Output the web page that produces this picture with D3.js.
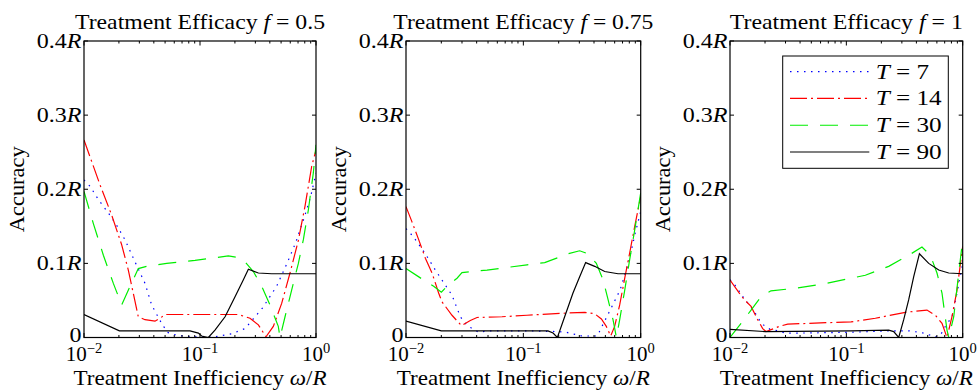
<!DOCTYPE html>
<html><head><meta charset="utf-8">
<script src="https://cdn.jsdelivr.net/npm/d3@7"></script>
<style>
body{margin:0;background:#fff}
svg{display:block}
</style>
</head><body><svg id="c" width="977" height="390"></svg>
<script>
// ---------- data ----------
const efficacies = ["0.5", "0.75", "1"];
const seriesT = ["7", "14", "30", "90"];
const yTicks = [0, 0.1, 0.2, 0.3, 0.4];
const yTickLabels = ["0", "0.1", "0.2", "0.3", "0.4"];
const xMajorTicks = [0.01, 0.1, 1];
const xTickExponents = ["−2", "−1", "0"];

// Panel f = 0.5  (log10 of omega/R, accuracy in units of R)
const f05_T7_logw  = [-2, -1.948, -1.876, -1.79, -1.713, -1.647, -1.56, -1.474, -1.417, -1.345, -1.282, -1.2, -1.086, -0.871, -0.727, -0.612, -0.46, -0.34, -0.25, -0.175, -0.095, -0.046, 0];
const f05_T7_acc   = [0.2125, 0.204, 0.186, 0.168, 0.150, 0.132, 0.102, 0.073, 0.044, 0.023, 0.007, 0.003, 0.001, 0.001, 0.005, 0.012, 0.04, 0.069, 0.1, 0.128, 0.165, 0.19, 0.222];
const f05_T14_logw = [-2, -1.862, -1.761, -1.675, -1.618, -1.532, -1.474, -1.388, -1.345, -1.30, -0.67, -0.569, -0.497, -0.431, -0.368, -0.296, -0.224, -0.152, -0.095, -0.037, 0];
const f05_T14_acc  = [0.2665, 0.206, 0.165, 0.125, 0.091, 0.028, 0.024, 0.022, 0.026, 0.031, 0.031, 0.026, 0.017, 0.001, 0.015, 0.046, 0.087, 0.131, 0.177, 0.231, 0.253];
const f05_T30_logw = [-2, -1.92, -1.833, -1.747, -1.675, -1.603, -1.532, -1.46, -1.287, -1.043, -0.899, -0.756, -0.67, -0.612, -0.54, -0.468, -0.397, -0.325, -0.31, -0.267, -0.21, -0.152, -0.109, -0.066, -0.023, 0];
const f05_T30_acc  = [0.197, 0.154, 0.111, 0.073, 0.044, 0.069, 0.093, 0.096, 0.100, 0.104, 0.107, 0.110, 0.108, 0.102, 0.089, 0.069, 0.044, 0.015, 0.0, 0.028, 0.064, 0.1, 0.132, 0.172, 0.222, 0.26];
const f05_T90_logw = [-2, -1.695, -1.086, -1.014, -0.986, -0.928, -0.871, -0.784, -0.698, -0.626, -0.583, -0.497, -0.382, 0];
const f05_T90_acc  = [0.031, 0.009, 0.009, 0.006, 0.002, 0, 0.010, 0.028, 0.055, 0.078, 0.092, 0.087, 0.086, 0.086];

// Panel f = 0.75
const f075_T7_logw  = [-2, -1.949, -1.906, -1.835, -1.75, -1.679, -1.608, -1.537, -1.494, -1.438, -1.381, -1.295, -0.969, -0.705, -0.634, -0.5, -0.37, -0.33, -0.26, -0.176, -0.105, -0.048, 0];
const f075_T7_acc   = [0.147, 0.138, 0.129, 0.113, 0.091, 0.074, 0.057, 0.028, 0.019, 0.012, 0.007, 0.009, 0.009, 0.008, 0.007, 0.002, 0.002, 0.015, 0.037, 0.064, 0.1, 0.14, 0.17];
const f075_T14_logw = [-2, -1.949, -1.892, -1.835, -1.778, -1.722, -1.693, -1.608, -1.528, -1.452, -1.395, -1.182, -0.969, -0.761, -0.477, -0.392, -0.335, -0.293, -0.256, -0.222, -0.179, -0.136, -0.094, -0.051, 0];
const f075_T14_acc  = [0.1766, 0.156, 0.132, 0.107, 0.087, 0.060, 0.048, 0.030, 0.016, 0.023, 0.027, 0.028, 0.030, 0.032, 0.034, 0.032, 0.025, 0.015, 0.002, 0.015, 0.044, 0.080, 0.114, 0.150, 0.19];
const f075_T30_logw = [-2, -1.864, -1.764, -1.699, -1.651, -1.565, -1.523, -1.31, -0.969, -0.818, -0.619, -0.52, -0.449, -0.378, -0.321, -0.278, -0.236, -0.207, -0.179, -0.136, -0.094, -0.051, 0];
const f075_T30_acc  = [0.093, 0.079, 0.069, 0.061, 0.069, 0.080, 0.0875, 0.091, 0.098, 0.101, 0.113, 0.117, 0.113, 0.100, 0.078, 0.051, 0.024, 0.0, 0.024, 0.064, 0.105, 0.145, 0.195];
const f075_T90_logw = [-2, -1.699, -0.79, -0.747, -0.71, -0.648, -0.577, -0.52, -0.469, -0.392, -0.307, -0.193, 0];
const f075_T90_acc  = [0.022, 0.009, 0.009, 0.006, 0, 0.028, 0.060, 0.082, 0.101, 0.096, 0.089, 0.086, 0.086];

// Panel f = 1
const f1_T7_logw  = [-2, -1.954, -1.914, -1.877, -1.834, -1.791, -1.754, -1.713, -1.656, -1.59, -1.524, -1.404, -0.96, -0.607, -0.464, -0.35, -0.235, -0.192, -0.149, -0.092, -0.049, 0];
const f1_T7_acc   = [0.078, 0.070, 0.061, 0.052, 0.044, 0.035, 0.025, 0.017, 0.011, 0.009, 0.006, 0.006, 0.007, 0.009, 0.009, 0.0065, 0.001, 0.003, 0.015, 0.028, 0.06, 0.1];
const f1_T14_logw = [-2, -1.92, -1.877, -1.819, -1.762, -1.719, -1.69, -1.576, -1.504, -1.175, -0.96, -0.751, -0.493, -0.307, -0.235, -0.178, -0.135, -0.092, -0.049, 0];
const f1_T14_acc  = [0.0776, 0.060, 0.051, 0.042, 0.024, 0.012, 0.008, 0.015, 0.018, 0.020, 0.021, 0.026, 0.034, 0.037, 0.030, 0.019, 0.0, 0.028, 0.064, 0.123];
const f1_T30_logw = [-2, -1.905, -1.819, -1.734, -1.648, -1.461, -1.203, -0.96, -0.837, -0.636, -0.464, -0.35, -0.278, -0.221, -0.178, -0.135, -0.12, -0.077, -0.034, 0];
const f1_T30_acc  = [0.0, 0.019, 0.037, 0.055, 0.063, 0.066, 0.072, 0.080, 0.084, 0.096, 0.111, 0.122, 0.111, 0.087, 0.06, 0.01, 0.0, 0.028, 0.087, 0.132];
const f1_T90_logw = [-2, -1.696, -0.96, -0.636, -0.593, -0.55, -0.507, -0.464, -0.421, -0.372, -0.292, -0.206, -0.12, 0];
const f1_T90_acc  = [0.011, 0.008, 0.009, 0.010, 0.008, 0.0, 0.024, 0.051, 0.082, 0.113, 0.100, 0.091, 0.087, 0.086];

const panelSeries = [
  [[f05_T7_logw, f05_T7_acc], [f05_T14_logw, f05_T14_acc], [f05_T30_logw, f05_T30_acc], [f05_T90_logw, f05_T90_acc]],
  [[f075_T7_logw, f075_T7_acc], [f075_T14_logw, f075_T14_acc], [f075_T30_logw, f075_T30_acc], [f075_T90_logw, f075_T90_acc]],
  [[f1_T7_logw, f1_T7_acc], [f1_T14_logw, f1_T14_acc], [f1_T30_logw, f1_T30_acc], [f1_T90_logw, f1_T90_acc]]
];

// ---------- layout / style ----------
const FONT = '"Liberation Serif"';
const panelLeft = [84, 406, 730];
const panelWidth = [232, 234.7, 232.7];
const titleWidth = [250, 260, 233];
const plotTop = 41, plotBottom = 337.5;
const styles = [
  {color: "#0000ff", dash: "1.5,5.5", width: 1.2},
  {color: "#ff0000", dash: "17,4,2,4", width: 1.2},
  {color: "#00ee00", dash: "18,12", width: 1.2},
  {color: "#000000", dash: null, width: 1.2}
];

const svg = d3.select("#c");

function txt(parent, size) {
  return parent.append("text").attr("font-family", FONT).attr("font-size", size).attr("fill", "#000");
}
// horizontally stretch a text (Computer-Modern-like wider glyphs)
function stretch(sel, k) {
  const w = sel.node().getComputedTextLength();
  if (w > 0) sel.attr("textLength", w * k).attr("lengthAdjust", "spacingAndGlyphs");
}
function widthOf(build) {
  const t = build(svg);
  const w = t.node().getComputedTextLength();
  t.remove();
  return w;
}
const tickK = 44.7 / widthOf(p => { const t = txt(p, 20); t.append("tspan").text("0.4"); t.append("tspan").attr("font-style", "italic").text("R"); return t; });
const legendK = 66 / widthOf(p => { const t = txt(p, 20); t.append("tspan").attr("font-style", "italic").text("T"); t.append("tspan").text(" = 14"); return t; });

panelSeries.forEach((series, pi) => {
  const L = panelLeft[pi], W = panelWidth[pi];
  const x = d3.scaleLog().domain([0.01, 1]).range([L, L + W]);
  const y = d3.scaleLinear().domain([0, 0.4]).range([plotBottom, plotTop]);
  const g = svg.append("g");

  const clipId = "clip" + pi;
  svg.append("clipPath").attr("id", clipId).append("rect")
    .attr("x", L).attr("y", plotTop).attr("width", W).attr("height", plotBottom - plotTop);

  // curves
  const line = d3.line().x(d => x(d[0])).y(d => y(d[1]));
  const cg = g.append("g").attr("clip-path", `url(#${clipId})`);
  series.forEach((s, si) => {
    const pts = s[0].map((lw, i) => [Math.pow(10, lw), s[1][i]]);
    const st = styles[si];
    cg.append("path").datum(pts).attr("d", line)
      .attr("fill", "none").attr("stroke", st.color)
      .attr("stroke-width", st.width)
      .attr("stroke-dasharray", st.dash);
  });

  // ticks (inward, both sides)
  const tg = g.append("g").attr("stroke", "#000").attr("stroke-width", 1);
  yTicks.forEach(v => {
    tg.append("line").attr("x1", L).attr("x2", L + 4).attr("y1", y(v)).attr("y2", y(v));
    tg.append("line").attr("x1", L + W - 4).attr("x2", L + W).attr("y1", y(v)).attr("y2", y(v));
  });
  const minor = [];
  [0.01, 0.1].forEach(d => { for (let m = 2; m <= 9; m++) minor.push(m * d); });
  minor.forEach(v => {
    tg.append("line").attr("x1", x(v)).attr("x2", x(v)).attr("y1", plotBottom).attr("y2", plotBottom - 2.5);
    tg.append("line").attr("x1", x(v)).attr("x2", x(v)).attr("y1", plotTop).attr("y2", plotTop + 2.5);
  });
  xMajorTicks.forEach(v => {
    tg.append("line").attr("x1", x(v)).attr("x2", x(v)).attr("y1", plotBottom).attr("y2", plotBottom - 4.5);
    tg.append("line").attr("x1", x(v)).attr("x2", x(v)).attr("y1", plotTop).attr("y2", plotTop + 4.5);
  });

  // box
  g.append("rect").attr("x", L).attr("y", plotTop).attr("width", W).attr("height", plotBottom - plotTop)
    .attr("fill", "none").attr("stroke", "#000").attr("stroke-width", 1.2);

  // y tick labels
  yTicks.forEach((v, i) => {
    const t = txt(g, 20).attr("x", L - 2.5).attr("y", y(v) + (v === 0 ? 4.5 : 6.5))
      .attr("text-anchor", "end");
    t.append("tspan").text(yTickLabels[i]);
    if (v !== 0) t.append("tspan").attr("font-style", "italic").text("R");
    stretch(t, tickK);
  });

  // x tick labels
  xMajorTicks.forEach((v, i) => {
    const t = txt(g, 21).attr("x", x(v)).attr("y", 360.5).attr("text-anchor", "middle");
    t.append("tspan").text("10");
    t.append("tspan").attr("font-size", 14.5).attr("dy", -7.5).text(xTickExponents[i]);
  });

  // x axis label
  const xl = txt(g, 21).attr("x", L + W / 2).attr("y", 385).attr("text-anchor", "middle");
  xl.append("tspan").text("Treatment Inefficiency ");
  xl.append("tspan").attr("font-style", "italic").text("ω");
  xl.append("tspan").text("/");
  xl.append("tspan").attr("font-style", "italic").text("R");
  stretch(xl, 253 / xl.node().getComputedTextLength());

  // y axis label
  const yl = txt(g, 21).attr("transform", `translate(${L - 60},${(plotTop + plotBottom) / 2}) rotate(-90)`)
    .attr("text-anchor", "middle").text("Accuracy");
  stretch(yl, 86 / yl.node().getComputedTextLength());

  // title
  const tt = txt(g, 21).attr("x", L + W / 2).attr("y", 29).attr("text-anchor", "middle");
  tt.append("tspan").text("Treatment Efficacy ");
  tt.append("tspan").attr("font-style", "italic").text("f");
  tt.append("tspan").text(" = " + efficacies[pi]);
  stretch(tt, titleWidth[pi] / tt.node().getComputedTextLength());
});

// legend (panel 3)
const lg = svg.append("g");
lg.append("rect").attr("x", 782.7).attr("y", 56).attr("width", 165.6).attr("height", 112.3)
  .attr("fill", "#fff").attr("stroke", "#000").attr("stroke-width", 1);
const legendY = d3.scalePoint().domain(seriesT).range([71.7, 152]);
seriesT.forEach((T, i) => {
  const st = styles[i];
  const yy = legendY(T);
  lg.append("line").attr("x1", 790).attr("x2", 869.3).attr("y1", yy).attr("y2", yy)
    .attr("stroke", st.color).attr("stroke-width", st.width).attr("stroke-dasharray", st.dash);
  const t = txt(lg, 20).attr("x", 875.7).attr("y", yy + 7);
  t.append("tspan").attr("font-style", "italic").text("T");
  t.append("tspan").text(" = " + T);
  stretch(t, legendK);
});
</script>
</body></html>
